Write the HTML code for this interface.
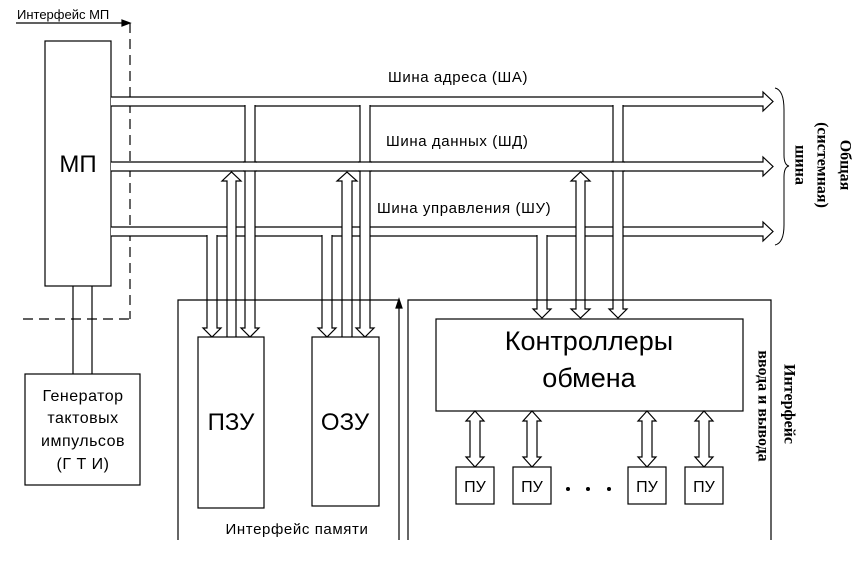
<!DOCTYPE html>
<html><head><meta charset="utf-8"><style>
html,body{margin:0;padding:0;background:#fff;}
svg{display:block;}
text{font-family:"Liberation Sans",sans-serif;fill:#000;}
.s{font-family:"Liberation Serif",serif;font-weight:bold;}
</style></head><body>
<svg width="865" height="573" viewBox="0 0 865 573" xmlns="http://www.w3.org/2000/svg" stroke="#000" stroke-width="1.2" fill="none">
<!-- Interface MP -->
<text x="17" y="19" font-size="13" stroke="none">Интерфейс МП</text>
<line x1="16" y1="23" x2="124" y2="23"/>
<polygon points="122,20 130,23 122,26" fill="#000"/>
<line x1="130" y1="23" x2="130" y2="319" stroke-dasharray="10,6"/>
<line x1="23" y1="319" x2="130" y2="319" stroke-dasharray="10,6"/>
<!-- MP -->
<rect x="45" y="41" width="66" height="245" fill="#fff"/>
<text x="78" y="172" font-size="24" text-anchor="middle" stroke="none">МП</text>
<!-- MP to GTI -->
<line x1="73" y1="286" x2="73" y2="374"/><line x1="92" y1="286" x2="92" y2="374"/>
<rect x="25" y="374" width="115" height="111" fill="#fff"/>
<g font-size="16" text-anchor="middle" stroke="none" letter-spacing="0.5">
<text x="83" y="401">Генератор</text><text x="83" y="423">тактовых</text><text x="83" y="446">импульсов</text><text x="83" y="469">(Г Т И)</text>
</g>
<!-- Buses -->
<polyline points="111,97 763,97 763,92 773,101.5 763,111 763,106 111,106" fill="#fff"/>
<polyline points="111,162 763,162 763,157 773,166.5 763,176 763,171 111,171" fill="#fff"/>
<polyline points="111,227 763,227 763,222 773,231.5 763,241 763,236 111,236" fill="#fff"/>
<g font-size="15" stroke="none" letter-spacing="0.6">
<text x="388" y="82">Шина адреса (ША)</text>
<text x="386" y="146">Шина данных (ШД)</text>
<text x="377" y="213">Шина управления (ШУ)</text>
</g>
<!-- Memory pipes -->
<g fill="#fff">
<polyline points="207,235 207,328 203,328 212,337 221,328 217,328 217,235"/>
<polyline points="227,337 227,181 222,181 231.5,172 241,181 236,181 236,337"/>
<polyline points="245,105 245,328 241,328 250,337 259,328 255,328 255,105"/>
<polyline points="322,235 322,328 318,328 327,337 336,328 332,328 332,235"/>
<polyline points="342,337 342,181 337,181 347,172 357,181 352,181 352,337"/>
<polyline points="360,105 360,328 356,328 365,337 374,328 370,328 370,105"/>
<!-- IO pipes -->
<polyline points="537,235 537,309 533,309 542,318 551,309 547,309 547,235"/>
<polygon points="576,181 571,181 580.5,172 590,181 585,181 585,309 590,309 580.5,318 571,309 576,309"/>
<polyline points="613,105 613,309 609,309 618,318 627,309 623,309 623,105"/>
</g>
<!-- data bus over address taps -->
<g>
<rect x="244" y="162.6" width="12" height="7.8" fill="#fff" stroke="none"/>
<rect x="359" y="162.6" width="12" height="7.8" fill="#fff" stroke="none"/>
<rect x="612" y="162.6" width="12" height="7.8" fill="#fff" stroke="none"/>
<line x1="243" y1="162" x2="257" y2="162"/><line x1="243" y1="171" x2="257" y2="171"/>
<line x1="358" y1="162" x2="372" y2="162"/><line x1="358" y1="171" x2="372" y2="171"/>
<line x1="611" y1="162" x2="625" y2="162"/><line x1="611" y1="171" x2="625" y2="171"/>
</g>
<!-- Memory interface -->
<polyline points="178,540 178,300 399,300"/>
<line x1="399" y1="540" x2="399" y2="306"/>
<polygon points="396,308 399,299 402,308" fill="#000"/>
<rect x="198" y="337" width="66" height="171" fill="#fff"/>
<rect x="312" y="337" width="67" height="169" fill="#fff"/>
<text x="231" y="430" font-size="24" text-anchor="middle" stroke="none">ПЗУ</text>
<text x="345" y="430" font-size="24" text-anchor="middle" stroke="none">ОЗУ</text>
<text x="297" y="534" font-size="15" text-anchor="middle" stroke="none" letter-spacing="0.6">Интерфейс памяти</text>
<!-- IO interface -->
<polyline points="408,540 408,300 771,300 771,540"/>
<rect x="436" y="319" width="307" height="92" fill="#fff"/>
<text x="589" y="350" font-size="27" text-anchor="middle" stroke="none">Контроллеры</text>
<text x="589" y="387" font-size="27" text-anchor="middle" stroke="none">обмена</text>
<g fill="#fff">
<polygon points="475,411 484,421 480,421 480,457 484,457 475,467 466,457 470,457 470,421 466,421"/>
<polygon points="532,411 541,421 537,421 537,457 541,457 532,467 523,457 527,457 527,421 523,421"/>
<polygon points="647,411 656,421 652,421 652,457 656,457 647,467 638,457 642,457 642,421 638,421"/>
<polygon points="704,411 713,421 709,421 709,457 713,457 704,467 695,457 699,457 699,421 695,421"/>
</g>
<rect x="456" y="467" width="38" height="37" fill="#fff"/>
<rect x="513" y="467" width="38" height="37" fill="#fff"/>
<rect x="628" y="467" width="38" height="37" fill="#fff"/>
<rect x="685" y="467" width="38" height="37" fill="#fff"/>
<g font-size="16" text-anchor="middle" stroke="none">
<text x="475" y="492">ПУ</text><text x="532" y="492">ПУ</text><text x="647" y="492">ПУ</text><text x="704" y="492">ПУ</text>
</g>
<circle cx="568" cy="489" r="2" fill="#000" stroke="none"/>
<circle cx="588" cy="489" r="2" fill="#000" stroke="none"/>
<circle cx="609" cy="489" r="2" fill="#000" stroke="none"/>
<g class="s" font-size="16" text-anchor="middle" stroke="none">
<text class="s" transform="translate(763,406) rotate(90)" dominant-baseline="central">ввода и вывода</text>
<text class="s" transform="translate(789,404) rotate(90)" dominant-baseline="central">Интерфейс</text>
<text class="s" transform="translate(845,165) rotate(90)" dominant-baseline="central">Общая</text>
<text class="s" transform="translate(822,165) rotate(90)" dominant-baseline="central">(системная)</text>
<text class="s" transform="translate(800,165) rotate(90)" dominant-baseline="central">шина</text>
</g>
<!-- brace -->
<path d="M775,88 Q784,90 784,110 L784,155 Q784,165 789,166 Q784,167 784,177 L784,225 Q784,243 775,245" stroke-width="1"/>
</svg>
</body></html>
